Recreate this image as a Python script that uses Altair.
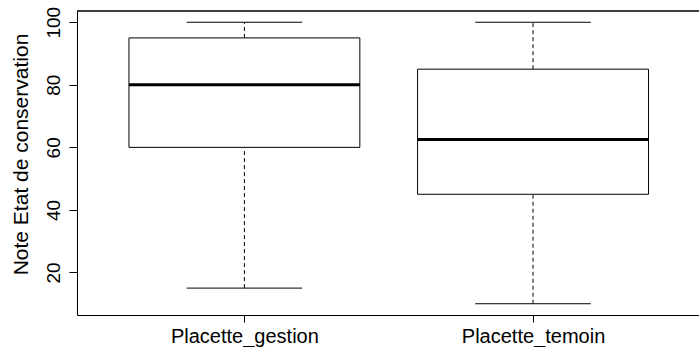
import json

import altair as alt
import pandas as pd

# Boxplot statistics per plot group
groups = ["Placette_gestion", "Placette_temoin"]
positions = [1, 2]
whisker_low = [15, 10]
quartile_1 = [60, 45]
medians = [80, 62.5]
quartile_3 = [95, 85]
whisker_high = [100, 100]

y_ticks = [20, 40, 60, 80, 100]

df = pd.DataFrame({
    "group": groups,
    "pos": positions,
    "lo": whisker_low,
    "q1": quartile_1,
    "med": medians,
    "q3": quartile_3,
    "hi": whisker_high,
})

W, H = 622, 304
FONT = "Liberation Sans"
INK = "black"

x_scale = alt.Scale(domain=[0.42, 2.575], nice=False, zero=False)
y_scale = alt.Scale(domain=[6.4, 103.6], nice=False, zero=False)

x_axis = alt.Axis(
    values=positions,
    labelExpr=json.dumps(groups) + "[datum.value - 1]",
    title=None,
    grid=False,
    tickSize=7,
    tickColor=INK,
    domainColor=INK,
    labelFont=FONT,
    labelFontSize=20,
    labelColor=INK,
    labelBaseline="alphabetic",
    labelPadding=20,
    labelFlush=False,
    labelOverlap=False,
    labelBound=False,
)
y_axis = alt.Axis(
    values=y_ticks,
    title="Note Etat de conservation",
    grid=False,
    tickSize=8,
    tickColor=INK,
    domainColor=INK,
    labelFont=FONT,
    labelFontSize=19,
    labelColor=INK,
    labelAngle=-90,
    labelAlign="center",
    labelBaseline="alphabetic",
    labelPadding=10,
    titleFont=FONT,
    titleFontSize=21,
    titleFontWeight="normal",
    titleColor=INK,
    titleAngle=-90,
    titleAlign="center",
    titleBaseline="alphabetic",
    titleX=-50,
    titleY=143,
)

base = alt.Chart(df).transform_calculate(
    box_l="datum.pos - 0.4",
    box_r="datum.pos + 0.4",
    cap_l="datum.pos - 0.2",
    cap_r="datum.pos + 0.2",
)

# Interquartile box
box = base.mark_rect(fill="white", stroke=INK, strokeWidth=1).encode(
    x=alt.X("box_l:Q", scale=x_scale, axis=x_axis),
    x2="box_r:Q",
    y=alt.Y("q1:Q", scale=y_scale, axis=y_axis),
    y2="q3:Q",
)

# Median line
median = base.mark_rule(color=INK, strokeWidth=3).encode(
    x=alt.X("box_l:Q", scale=x_scale, axis=x_axis),
    x2="box_r:Q",
    y=alt.Y("med:Q", scale=y_scale, axis=y_axis),
)

# Dashed whiskers
upper_whisker = base.mark_rule(color=INK, strokeWidth=1, strokeDash=[4, 3]).encode(
    x=alt.X("pos:Q", scale=x_scale, axis=x_axis),
    y=alt.Y("q3:Q", scale=y_scale, axis=y_axis),
    y2="hi:Q",
)
lower_whisker = base.mark_rule(color=INK, strokeWidth=1, strokeDash=[4, 3]).encode(
    x=alt.X("pos:Q", scale=x_scale, axis=x_axis),
    y=alt.Y("lo:Q", scale=y_scale, axis=y_axis),
    y2="q1:Q",
)

# Whisker caps
upper_cap = base.mark_rule(color=INK, strokeWidth=1).encode(
    x=alt.X("cap_l:Q", scale=x_scale, axis=x_axis),
    x2="cap_r:Q",
    y=alt.Y("hi:Q", scale=y_scale, axis=y_axis),
)
lower_cap = base.mark_rule(color=INK, strokeWidth=1).encode(
    x=alt.X("cap_l:Q", scale=x_scale, axis=x_axis),
    x2="cap_r:Q",
    y=alt.Y("lo:Q", scale=y_scale, axis=y_axis),
)

# Top edge of the plot frame
top_edge = alt.Chart(df).mark_rule(color=INK, strokeWidth=1).encode(
    x=alt.value(0),
    x2=alt.value(W),
    y=alt.value(0),
)

chart = (
    alt.layer(upper_whisker, lower_whisker, upper_cap, lower_cap, box, median, top_edge)
    .properties(
        width=W,
        height=H,
        autosize=alt.AutoSizeParams(type="none"),
        padding={"left": 77, "top": 11, "right": 0, "bottom": 32},
        background="white",
    )
    .configure_view(stroke=None)
)

chart.save("out.html", embed_options={"renderer": "svg", "actions": False})
